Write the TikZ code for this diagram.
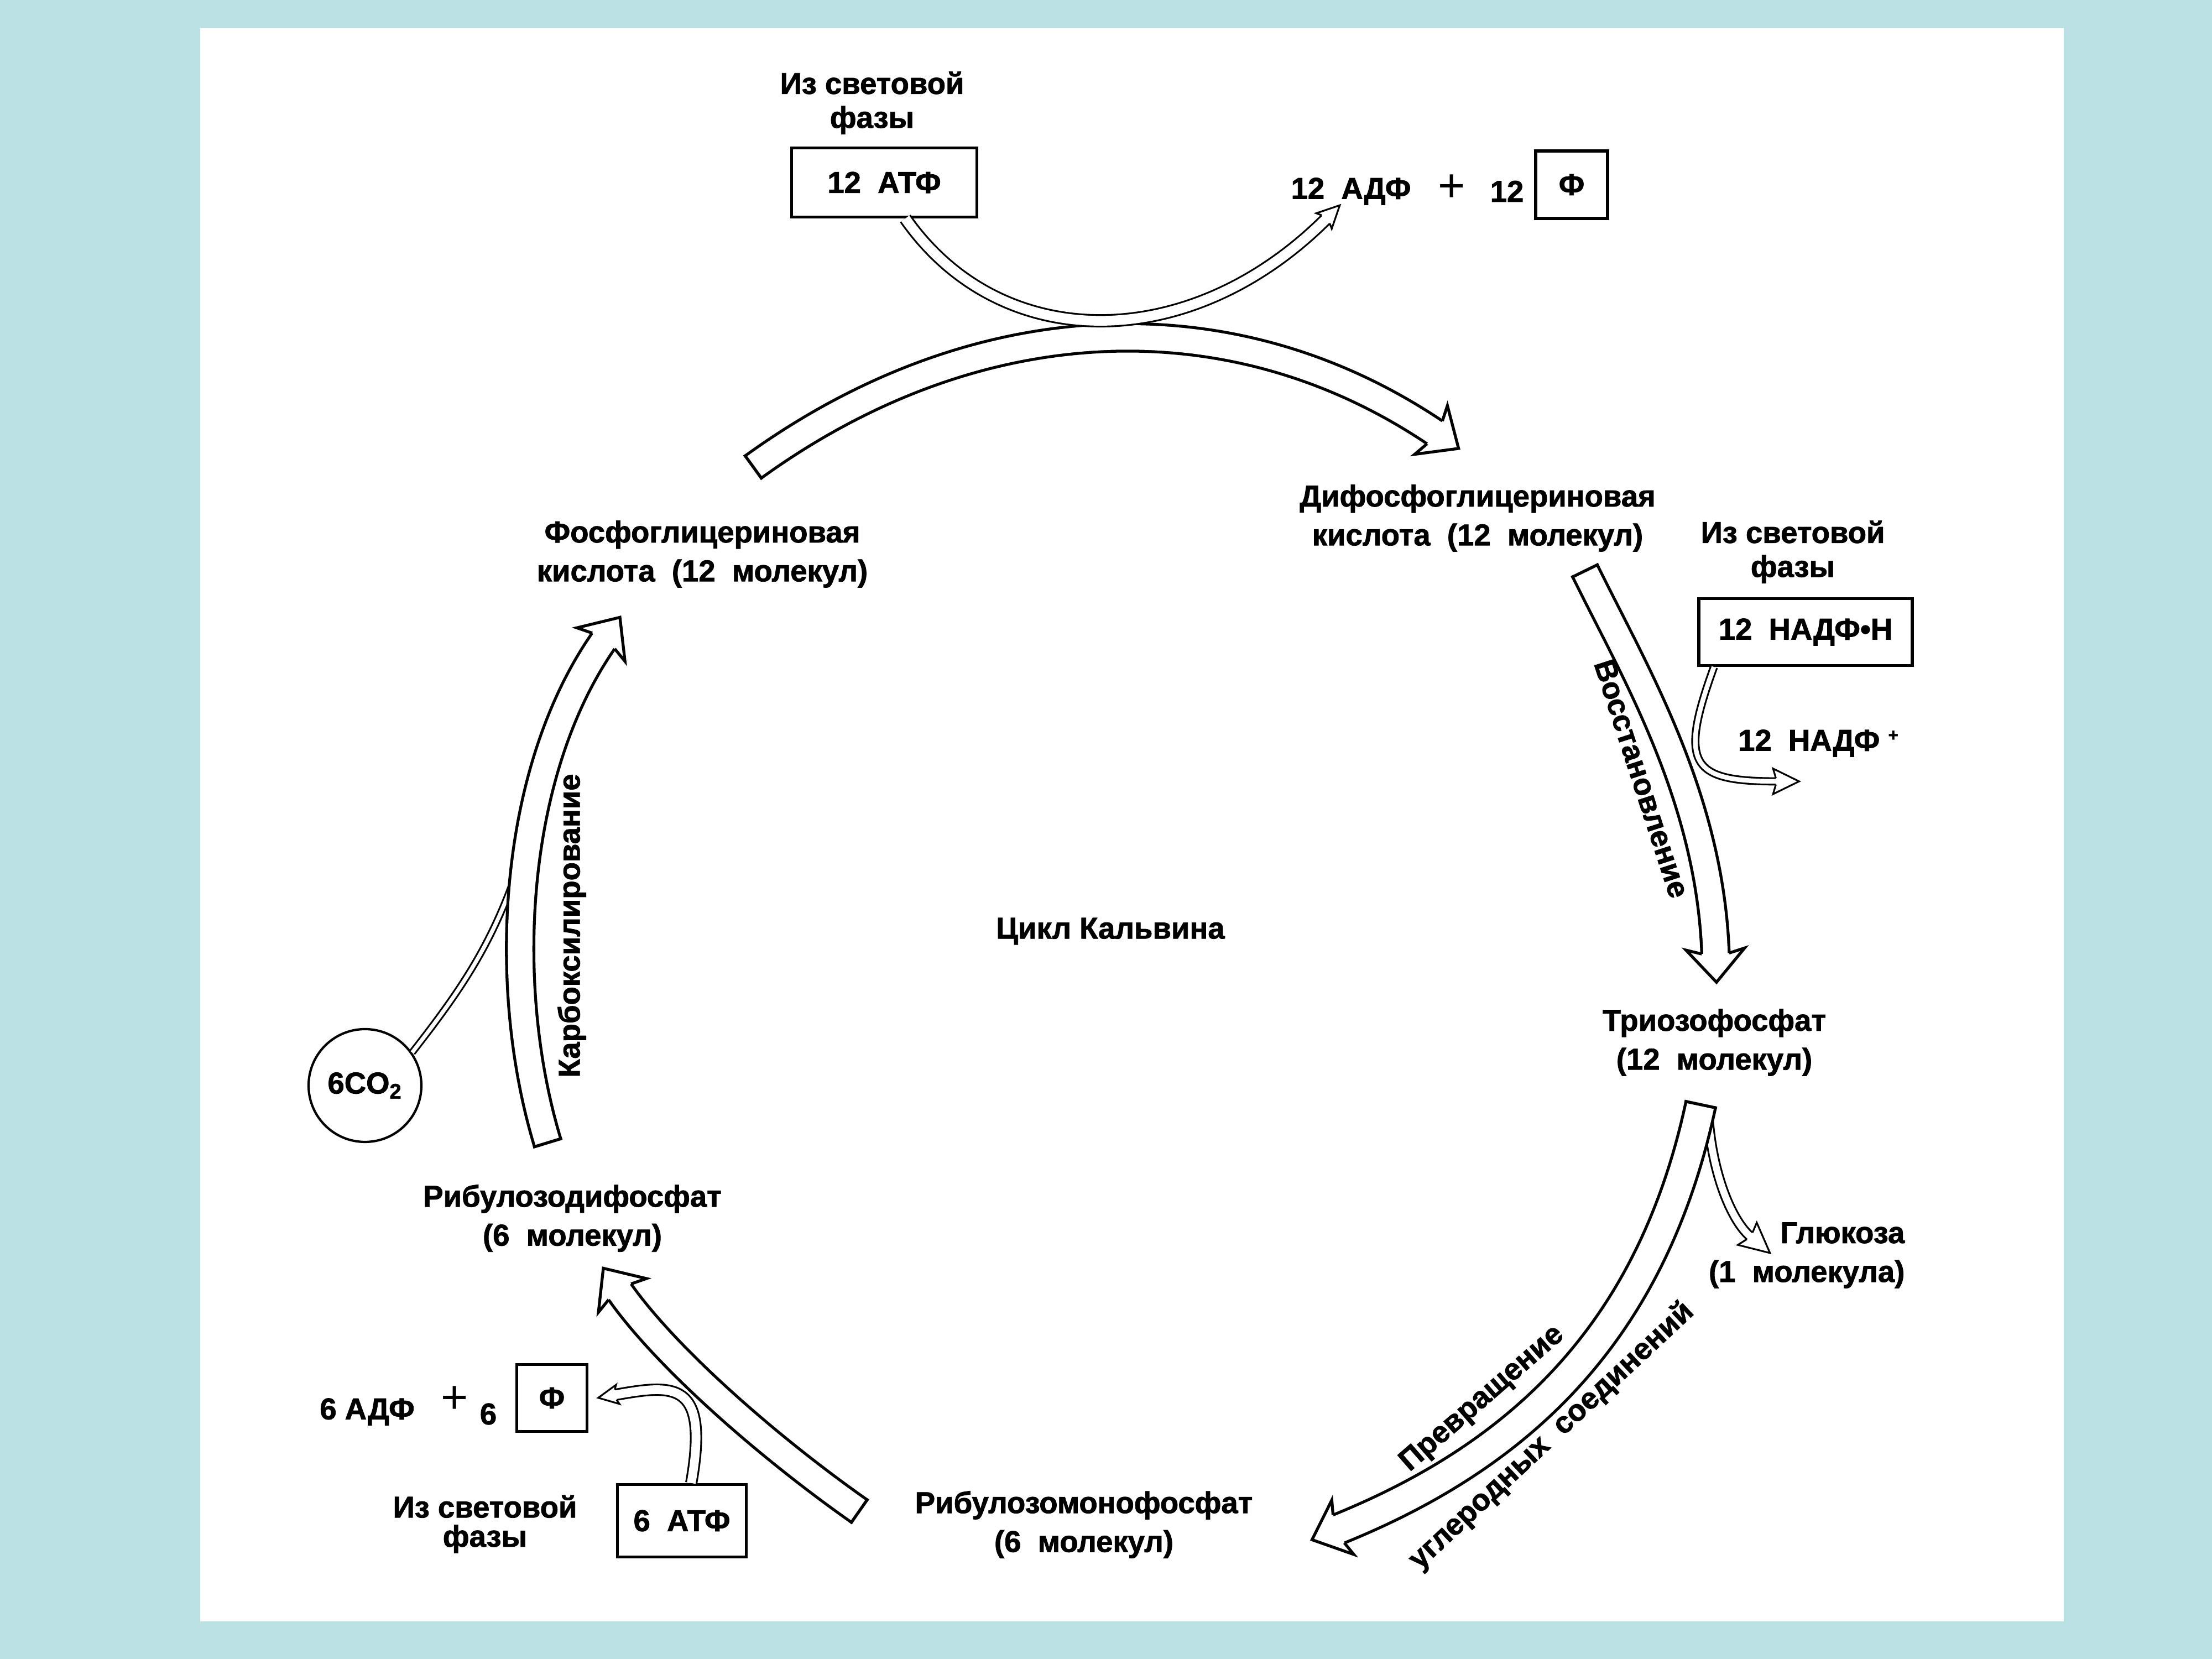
\documentclass[tikz,border=0pt]{standalone}
\usepackage{fontspec}
\setmainfont{Liberation Sans}[BoldFeatures={FakeBold=1.5}]
\usetikzlibrary{decorations.markings}
\definecolor{panelblue}{RGB}{187,224,227}
\tikzset{
  lbl/.style={font=\bfseries\fontsize{15.5}{20}\selectfont, align=center, inner sep=0pt},
  src/.style={font=\bfseries\fontsize{15.5}{17.5}\selectfont, align=center, inner sep=0pt},
  box/.style={draw, line width=1.5pt, inner sep=0pt, font=\bfseries\fontsize{15.5}{18}\selectfont},
  plus/.style={font=\fontsize{24}{24}\selectfont, inner sep=0pt},
  % hollow band with a tail line and an open head
  fatarrow/.style={white, line width=#1, shorten >=0.52cm,
    preaction={draw=black, line width=#1+3pt},
    postaction={decorate, decoration={markings,
      mark=at position 0 with {\draw[black, line width=1.5pt, shorten >=0pt] (0.75pt,-0.5*#1-1.5pt) -- (0.75pt,0.5*#1+1.5pt);},
      mark=at position -0.5pt with {\filldraw[black, fill=white, line width=1.5pt, line join=miter, shorten >=0pt]
        (-0.52cm,0.5*#1+0.75pt) -- (-0.6cm,0.53cm) -- (0,0) -- (-0.6cm,-0.53cm) -- (-0.52cm,-0.5*#1-0.75pt);}}}},
  % thin double line, #1 gap, #2 head length
  thinarrow/.style 2 args={white, line width=#1, shorten >=#2,
    preaction={draw=black, line width=#1+1.8pt},
    postaction={decorate, decoration={markings,
      mark=at position -0.5pt with {\filldraw[black, fill=white, line width=0.9pt, line join=miter, shorten >=0pt]
        (-#2,0.5*#1+0.45pt) -- (-1.12*#2,0.55*#2) -- (0,0) -- (-1.12*#2,-0.55*#2) -- (-#2,-0.5*#1-0.45pt);}}}},
  thinband/.style={white, line width=#1, preaction={draw=black, line width=#1+1.8pt}},
}
\begin{document}
\begin{tikzpicture}
  \useasboundingbox (0,0) rectangle (40,30);
  \fill[panelblue] (0,0) rectangle (40,30);
  \fill[white] (3.62,0.68) rectangle (37.32,29.49);

  % substances of the cycle
  \node[lbl] (pga) at (12.70,19.98) {Фосфоглицериновая\\кислота~~(12~~молекул)};
  \node[lbl] (dpga) at (26.72,20.63) {Дифосфоглицериновая\\кислота~~(12~~молекул)};
  \node[lbl] (triose) at (31.00,11.15) {Триозофосфат\\(12~~молекул)};
  \node[lbl, align=right, anchor=east] (glucose) at (34.45,7.30) {Глюкоза\\(1~~молекула)};
  \node[lbl] (rmp) at (19.60,2.43) {Рибулозомонофосфат\\(6~~молекул)};
  \node[lbl] (rdp) at (10.35,7.97) {Рибулозодифосфат\\(6~~молекул)};
  \node[lbl] (title) at (20.08,13.16) {Цикл Кальвина};

  % stages
  \node[lbl, rotate=90] (carb) at (10.34,13.26) {Карбоксилирование};
  \node[lbl, rotate=-72] (reduct) at (29.69,15.92) {Восстановление};
  \node[lbl, rotate=41] (conv1) at (26.81,4.70) {Превращение};
  \node[lbl, rotate=43] (conv2) at (28.06,4.03) {углеродных~~соединений};

  % from the light phase
  \node[src] (light1) at (15.77,28.14) {Из световой\\фазы};
  \node[box, minimum width=3.35cm, minimum height=1.25cm] (atp12) at (15.99,26.70) {12~~АТФ};
  \node[lbl] (adp12) at (24.43,26.54) {12~~АДФ};
  \node[plus] (plus12) at (26.25,26.60) {+};
  \node[lbl] (n12) at (27.25,26.54) {12};
  \node[box, minimum width=1.30cm, minimum height=1.22cm] (phi12) at (28.42,26.66) {Ф};

  \node[src] (light2) at (32.42,20.02) {Из световой\\фазы};
  \node[box, minimum width=3.86cm, minimum height=1.21cm] (nadph) at (32.65,18.57) {12~~НАДФ•Н};
  \node[lbl] (nadp) at (32.88,16.56) {12~~НАДФ~\raisebox{5pt}{\fontsize{9}{9}\selectfont +}};

  \node[src, font=\bfseries\fontsize{15.5}{15}\selectfont] (light3) at (8.77,2.44) {Из световой\\фазы};
  \node[box, minimum width=2.33cm, minimum height=1.31cm] (atp6) at (12.33,2.50) {6~~АТФ};
  \node[lbl] (adp6) at (6.64,4.47) {6~АДФ};
  \node[plus] (plus6) at (8.22,4.69) {+};
  \node[lbl] (n6) at (8.83,4.43) {6};
  \node[box, minimum width=1.27cm, minimum height=1.21cm] (phi6) at (9.98,4.72) {Ф};

  \node[lbl, circle, draw, line width=1.2pt, minimum size=2.04cm] (co2) at (6.60,10.37) {6CO\textsubscript{2}};

  % ends of the cycle arrows
  \coordinate (pga-out) at (13.60,21.54);
  \coordinate (dpga-in) at (26.39,21.88);
  \coordinate (dpga-out) at (28.65,19.70);
  \coordinate (triose-in) at (31.04,12.22);
  \coordinate (triose-out) at (30.76,10.05);
  \coordinate (rmp-in) at (23.71,2.15);
  \coordinate (rmp-out) at (15.56,2.66);
  \coordinate (rdp-in) at (10.90,7.08);
  \coordinate (rdp-out) at (9.91,9.31);
  \coordinate (pga-in) at (11.22,18.85);
  \coordinate (adp12-in) at (24.24,26.30);
  \coordinate (nadp-in) at (32.55,15.87);
  \coordinate (glucose-out) at (30.90,9.70);
  \coordinate (glucose-in) at (32.02,7.33);
  \coordinate (co2-join) at (9.45,14.55);

  % side branches under the bands
  \draw[thinband=2pt] (co2.35) .. controls +(52:1.6) and +(-108:1.6) .. (co2-join);
  \draw[thinarrow={3.6pt}{0.48cm}] (glucose-out) .. controls +(-85:1.0) and +(140:0.9) .. (glucose-in);

  % the cycle
  \draw[fatarrow=12.6pt] (pga-out) .. controls +(36:4.96) and +(146:4.99) .. (dpga-in);
  \draw[fatarrow=12.6pt] (dpga-out) .. controls +(-64:2.0) and +(92:3.4) .. (triose-in);
  \draw[fatarrow=14pt] (triose-out) .. controls +(-102:4.18) and +(22:4.15) .. (rmp-in);
  \draw[fatarrow=12.6pt] (rmp-out) .. controls +(145:2) and +(-55:2) .. (rdp-in);
  \draw[fatarrow=12.6pt] (rdp-out) .. controls +(107:2.99) and +(-125:3.43) .. (pga-in);

  % energy carriers
  \draw[thinarrow={5pt}{0.36cm}] ([xshift=0.38cm]atp12.south) .. controls +(-55:3.04) and +(225:3.81) .. (adp12-in);
  \draw[thinarrow={2.4pt}{0.42cm}] ([xshift=0.3cm]nadph.south west) .. controls +(-110:1.9) and +(180:1.96) .. (nadp-in);
  \draw[thinarrow={4.5pt}{0.32cm}] ([xshift=0.17cm]atp6.north) .. controls +(80:1.9) and +(10:1.4) .. ([xshift=0.16cm]phi6.east);
\end{tikzpicture}
\end{document}
